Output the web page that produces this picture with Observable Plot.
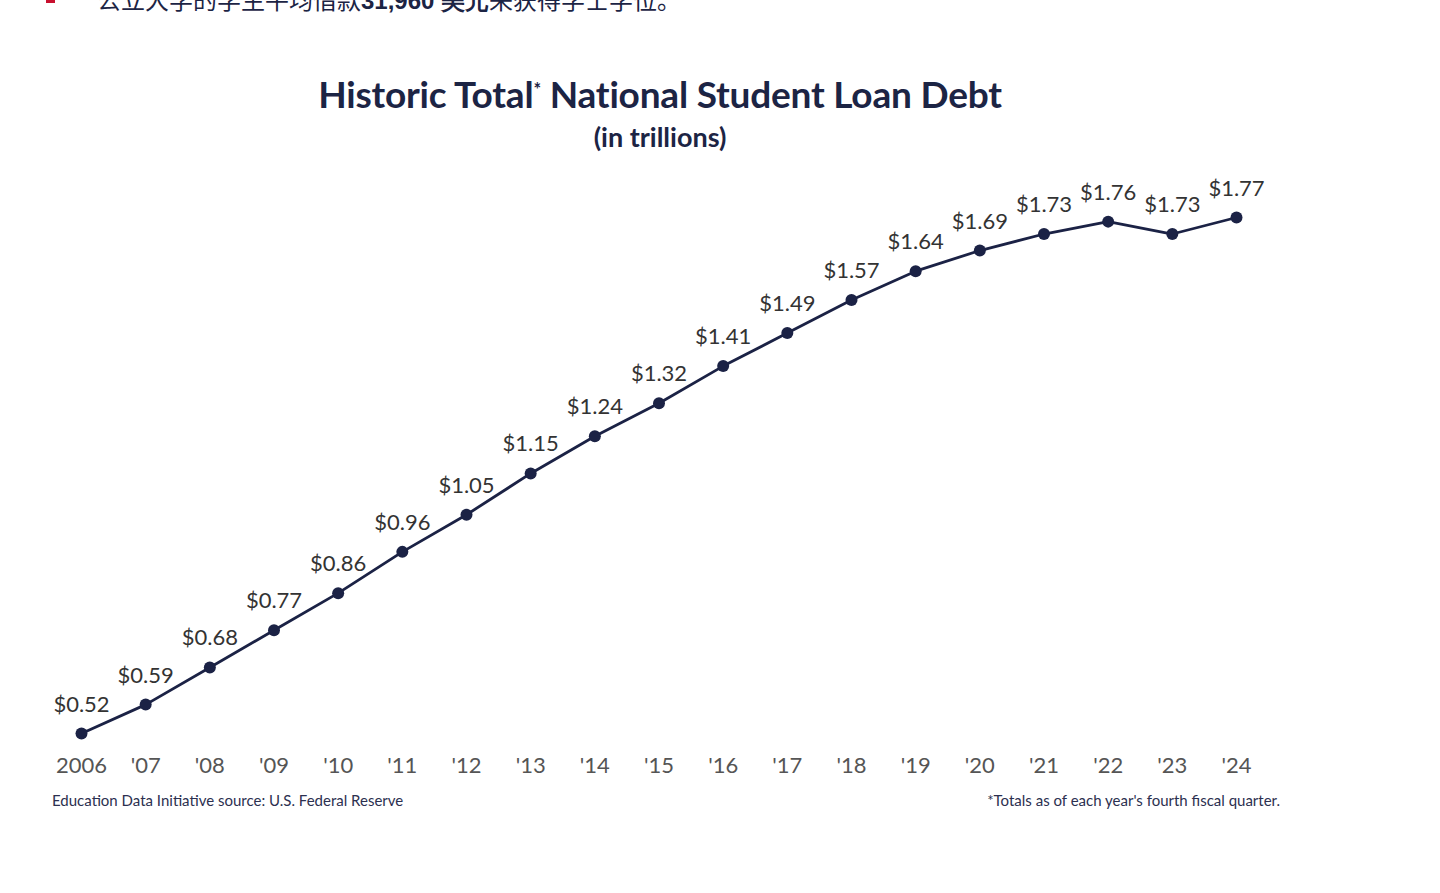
<!DOCTYPE html>
<html>
<head>
<meta charset="utf-8">
<script src="https://cdn.jsdelivr.net/npm/d3@7"></script>
<script src="https://cdn.jsdelivr.net/npm/@observablehq/plot@0.6"></script>
<style>
  html, body { margin: 0; padding: 0; background: #fff; width: 1440px; height: 893px; overflow: hidden; position: relative; font-family: Lato, "Noto Sans", sans-serif; }
  #topline { position: absolute; left: 97px; top: -19px; font-family: "Noto Sans CJK SC", sans-serif; font-size: 24px; color: #1c2444; white-space: nowrap; }
  #topline b { font-family: "Liberation Sans", Arial, sans-serif; font-weight: bold; }
  #bullet { position: absolute; left: 46px; top: 0px; width: 9px; height: 3px; background: #c8102e; }
  #title { position: absolute; left: 0; width: 1320px; top: 71px; text-align: center; font-size: 37px; font-weight: bold; color: #1c2444; letter-spacing: -0.2px; }
  #title sup { font-size: 18px; vertical-align: 12px; }
  #subtitle { position: absolute; left: 0; width: 1320px; top: 120px; text-align: center; font-size: 27px; font-weight: bold; color: #1c2444; }
  #chart { position: absolute; left: 0; top: 160px; }
  #src { position: absolute; left: 52px; top: 791px; font-size: 15px; color: #2c3050; }
  #note { position: absolute; right: 160px; top: 791px; font-size: 15px; color: #2c3050; }
</style>
</head>
<body>
<div id="bullet"></div>
<div id="topline">公立大学的学生平均借款<b>31,960 美元</b>来获得学士学位。</div>
<div id="title">Historic Total<sup>*</sup> National Student Loan Debt</div>
<div id="subtitle">(in trillions)</div>
<div id="chart"></div>
<div id="src">Education Data Initiative source: U.S. Federal Reserve</div>
<div id="note">*Totals as of each year's fourth fiscal quarter.</div>
<script>
const years = [2006, 2007, 2008, 2009, 2010, 2011, 2012, 2013, 2014, 2015, 2016, 2017, 2018, 2019, 2020, 2021, 2022, 2023, 2024];
const debt = [0.52, 0.59, 0.68, 0.77, 0.86, 0.96, 1.05, 1.15, 1.24, 1.32, 1.41, 1.49, 1.57, 1.64, 1.69, 1.73, 1.76, 1.73, 1.77];
const tickLabels = ["2006", "'07", "'08", "'09", "'10", "'11", "'12", "'13", "'14", "'15", "'16", "'17", "'18", "'19", "'20", "'21", "'22", "'23", "'24"];

const data = years.map((y, i) => ({year: y, value: debt[i], label: "$" + debt[i].toFixed(2)}));
const navy = "#1b2245";

const chart = Plot.plot({
  width: 1440,
  height: 620,
  marginBottom: 30,
  style: {fontFamily: "Lato, 'Noto Sans', sans-serif", background: "transparent"},
  x: {type: "linear", domain: [2006, 2024], range: [81, 1236]},
  y: {type: "linear", domain: [0.52, 1.77], range: [573, 57], axis: null},
  marks: [
    Plot.axisX({
      ticks: years,
      tickFormat: (d) => tickLabels[years.indexOf(d)],
      tickSize: 0,
      tickPadding: 7,
      fontSize: 22,
      fill: "#555",
      label: null
    }),
    Plot.line(data, {x: "year", y: "value", stroke: navy, strokeWidth: 2.8}),
    Plot.dot(data, {x: "year", y: "value", r: 6, fill: navy, stroke: "none"}),
    Plot.text(data, {x: "year", y: "value", text: "label", dy: -29, fontSize: 22, fill: "#333"})
  ]
});
document.getElementById("chart").appendChild(chart);
</script>
</body>
</html>
